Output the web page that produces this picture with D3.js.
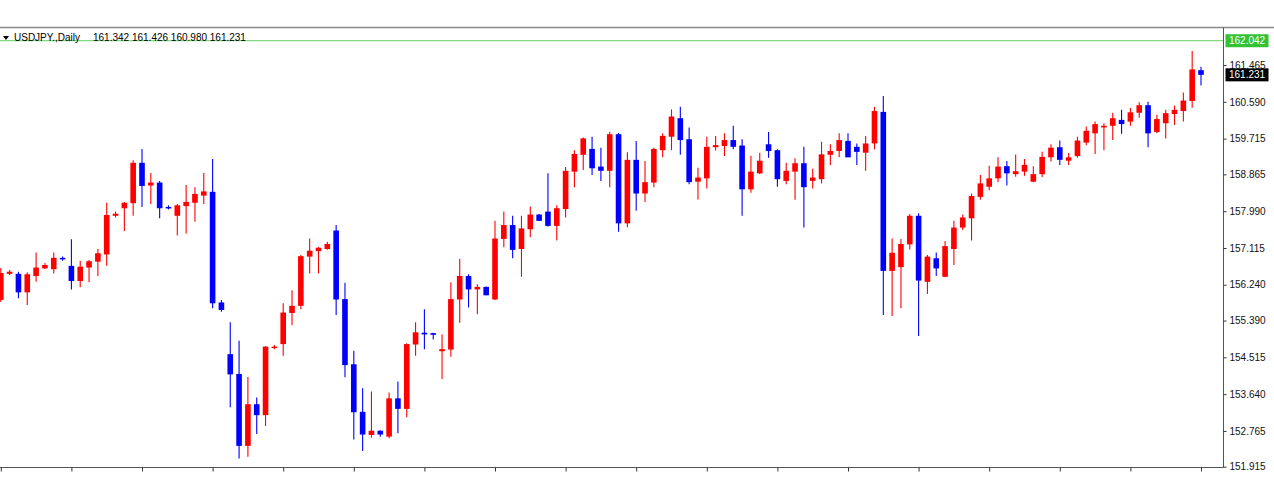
<!DOCTYPE html>
<html><head><meta charset="utf-8">
<script src="https://cdn.jsdelivr.net/npm/d3@7"></script>
<style>html,body{margin:0;padding:0;background:#fff;}svg{display:block;}</style>
</head><body>
<svg id="c" width="1274" height="500"></svg>
<script>
const symbol = "USDJPY.,Daily";
const headerValues = ["161.342", "161.426", "160.980", "161.231"];
const opens = [155.88,156.50,156.50,156.06,156.45,156.63,156.61,156.88,156.69,156.33,156.65,156.79,156.96,157.88,158.06,158.18,159.14,158.60,158.67,158.09,157.88,158.11,158.19,158.36,158.45,155.82,154.59,154.12,152.41,153.40,153.14,154.74,154.83,155.57,155.74,156.91,157.04,157.09,157.53,155.90,154.35,153.22,152.67,152.77,152.63,153.54,153.29,154.82,155.10,155.09,154.66,154.70,155.89,156.45,156.13,156.19,155.89,157.33,157.66,157.09,157.56,157.91,157.98,157.64,158.04,158.93,159.33,159.47,159.05,158.95,159.82,157.70,159.21,158.41,158.67,159.44,159.76,160.20,159.70,158.69,158.77,159.51,159.54,159.68,159.55,158.51,158.89,159.58,159.44,158.71,158.93,159.13,158.71,158.75,159.33,159.42,159.66,159.52,159.38,159.60,160.35,156.57,156.66,157.20,157.88,156.31,156.87,156.43,157.09,157.60,157.82,158.33,158.57,158.77,159.06,158.87,158.93,158.69,158.87,159.27,159.51,159.19,159.30,159.62,159.84,159.98,160.02,160.16,160.12,160.33,160.51,159.87,160.08,160.30,160.37,160.61,161.342];
const highs = [156.64,156.59,156.55,156.54,157.01,156.76,157.01,156.91,157.32,156.81,156.83,157.09,158.19,157.98,158.21,159.20,159.47,158.90,158.71,158.13,158.16,158.61,158.56,158.90,159.23,155.88,155.35,154.91,154.05,153.56,154.78,154.81,155.80,156.11,156.95,157.34,157.14,157.26,157.66,156.29,154.67,153.78,153.70,152.78,153.68,153.94,154.85,155.35,155.66,155.10,155.06,156.30,156.85,156.49,156.25,156.20,157.76,157.98,157.88,157.88,158.10,157.92,158.89,158.13,159.04,159.44,159.74,159.76,159.50,159.88,159.85,159.39,159.66,159.18,159.50,159.84,160.41,160.47,159.98,159.02,159.76,159.78,159.84,160.02,159.70,159.31,159.38,159.87,159.46,159.14,159.25,159.52,159.00,159.64,159.58,159.84,159.84,159.60,159.78,160.47,160.73,157.34,157.33,157.92,157.94,156.95,157.01,157.28,157.76,157.91,158.41,158.85,159.07,159.27,159.18,159.34,159.23,159.06,159.40,159.58,159.67,159.37,159.76,160.00,160.12,160.08,160.33,160.40,160.44,160.58,160.59,160.28,160.40,160.50,160.81,161.80,161.426];
const lows = [155.83,156.47,155.92,155.76,156.31,156.61,156.51,156.81,156.13,156.18,156.30,156.45,156.69,157.84,157.52,157.88,158.09,158.16,157.82,158.03,157.41,157.46,157.74,158.16,155.68,155.60,153.33,152.11,152.15,152.69,152.88,154.71,154.55,155.28,155.66,156.51,156.51,157.07,155.52,154.04,152.56,152.29,152.61,152.63,152.59,152.71,153.09,154.55,154.71,154.94,154.00,154.53,155.34,155.70,155.54,155.99,155.88,157.13,156.87,156.43,157.37,157.76,157.62,157.29,157.84,158.56,158.97,158.85,158.71,158.56,157.50,157.61,158.00,158.21,158.56,159.27,159.44,159.33,158.63,158.27,158.53,159.43,159.30,159.46,157.88,158.43,158.87,159.26,158.57,158.63,158.26,157.60,158.53,158.65,159.09,159.27,159.27,159.09,158.95,159.46,155.52,155.50,155.68,157.08,155.02,156.02,156.45,156.42,156.71,157.54,157.29,158.26,158.49,158.68,158.60,158.81,158.83,158.68,158.80,159.17,159.09,159.09,159.26,159.56,159.35,159.44,159.68,159.83,160.02,160.21,159.51,159.84,159.72,160.04,160.12,160.45,160.980];
const closes = [156.52,156.55,156.06,156.49,156.65,156.71,156.88,156.86,156.33,156.67,156.80,156.99,157.90,157.93,158.19,159.14,158.59,158.67,158.06,158.07,158.13,158.21,158.40,158.46,155.80,155.64,154.11,152.41,153.40,153.14,154.77,154.77,155.58,155.74,156.92,157.05,157.12,157.21,155.89,154.33,153.21,152.68,152.77,152.68,153.54,153.29,154.83,155.11,155.06,155.05,154.71,155.90,156.45,156.13,156.19,155.99,157.34,157.66,157.07,157.58,157.91,157.76,157.64,158.06,158.95,159.35,159.72,159.01,158.95,159.82,157.70,159.21,158.41,158.68,159.47,159.78,160.24,159.68,158.68,158.79,159.52,159.56,159.68,159.52,158.51,158.93,159.19,159.42,158.75,158.95,159.13,158.56,158.79,159.34,159.42,159.68,159.27,159.40,159.60,160.37,156.57,157.00,157.21,157.88,156.34,156.91,156.63,157.16,157.60,157.84,158.35,158.65,158.77,159.05,158.89,158.94,159.09,158.87,159.28,159.50,159.21,159.27,159.67,159.90,160.06,160.02,160.20,160.06,160.34,160.51,159.84,160.18,160.32,160.40,160.62,161.36,161.231];
const bars = d3.range(opens.length); // bar index categories
const yTickLabels = [161.465,160.590,159.715,158.865,157.990,157.115,156.240,155.390,154.515,153.640,152.765,151.915];
const askLevel = 162.042;
const lastPrice = 161.231;

const svg = d3.select("#c");
const FONT = "Liberation Sans, Arial, sans-serif";
const axisX = 1223, bottomY = 467, topY = 27.5;
const x = d3.scaleLinear().domain([0, bars.length - 1]).range([0.8, 1201]);
const y = d3.scaleLinear().domain([151.915, 161.465]).range([466.7, 65]);
const bullColor = "#ff0000", bearColor = "#0000ff";

// frame
svg.append("line").attr("x1",0).attr("x2",1274).attr("y1",topY).attr("y2",topY).attr("stroke","#8a8a8a").attr("stroke-width",1.5);
svg.append("line").attr("x1",axisX+0.5).attr("x2",axisX+0.5).attr("y1",topY).attr("y2",bottomY+0.5).attr("stroke","#555").attr("stroke-width",1);
svg.append("line").attr("x1",0).attr("x2",axisX+0.5).attr("y1",bottomY+0.5).attr("y2",bottomY+0.5).attr("stroke","#555").attr("stroke-width",1.2);

// ask line
svg.append("line").attr("x1",0).attr("x2",axisX).attr("y1",y(askLevel)).attr("y2",y(askLevel)).attr("stroke","#5fcf5f").attr("stroke-width",1);

// candles
const g = svg.append("g");
const col = i => closes[i] >= opens[i] ? bullColor : bearColor;
g.selectAll("line.w").data(bars).join("line").attr("class","w")
  .attr("x1", i => x(i)).attr("x2", i => x(i))
  .attr("y1", i => y(highs[i])).attr("y2", i => y(lows[i]))
  .attr("stroke", col).attr("stroke-width", 1.1);
const bw = 5.6;
g.selectAll("rect.b").data(bars).join("rect").attr("class","b")
  .attr("x", i => x(i) - bw/2).attr("width", bw)
  .attr("y", i => y(Math.max(opens[i], closes[i])))
  .attr("height", i => Math.max(1.5, Math.abs(y(opens[i]) - y(closes[i]))))
  .attr("fill", col);

// right axis
const ya = svg.append("g").attr("transform", `translate(${axisX+0.5},0)`)
  .call(d3.axisRight(y).tickValues(yTickLabels).tickSize(3).tickPadding(3).tickFormat(d3.format(".3f")));
ya.select(".domain").remove();
ya.selectAll("line").attr("stroke","#333");
ya.selectAll("text").attr("font-family",FONT).attr("font-size",10).attr("fill","#111");

// bottom ticks
const xa = svg.append("g").attr("transform", `translate(0,${bottomY+0.5})`)
  .call(d3.axisBottom(x).tickValues(d3.range(0, bars.length, 8)).tickSize(4).tickFormat(""));
xa.select(".domain").remove();
xa.selectAll("line").attr("stroke","#333");

// price tags
function tag(v, fill) {
  const yy = y(v);
  svg.append("rect").attr("x", axisX+2.5).attr("y", yy-6.5).attr("width", 43).attr("height", 13).attr("fill", fill);
  svg.append("text").attr("x", axisX+6).attr("y", yy).attr("dy","0.35em").attr("font-family",FONT).attr("font-size",10).attr("fill","#fff").text(d3.format(".3f")(v));
}
tag(askLevel, "#33c233");
tag(lastPrice, "#000");

// header
svg.append("path").attr("d","M3,36 L9,36 L6,40 Z").attr("fill","#000");
svg.append("text").attr("x",14).attr("y",41).attr("font-family",FONT).attr("font-size",10).attr("fill","#000").text(symbol);
svg.append("text").attr("x",93).attr("y",41).attr("font-family",FONT).attr("font-size",10).attr("fill","#000").text(headerValues.join(" "));
</script>
</body></html>
